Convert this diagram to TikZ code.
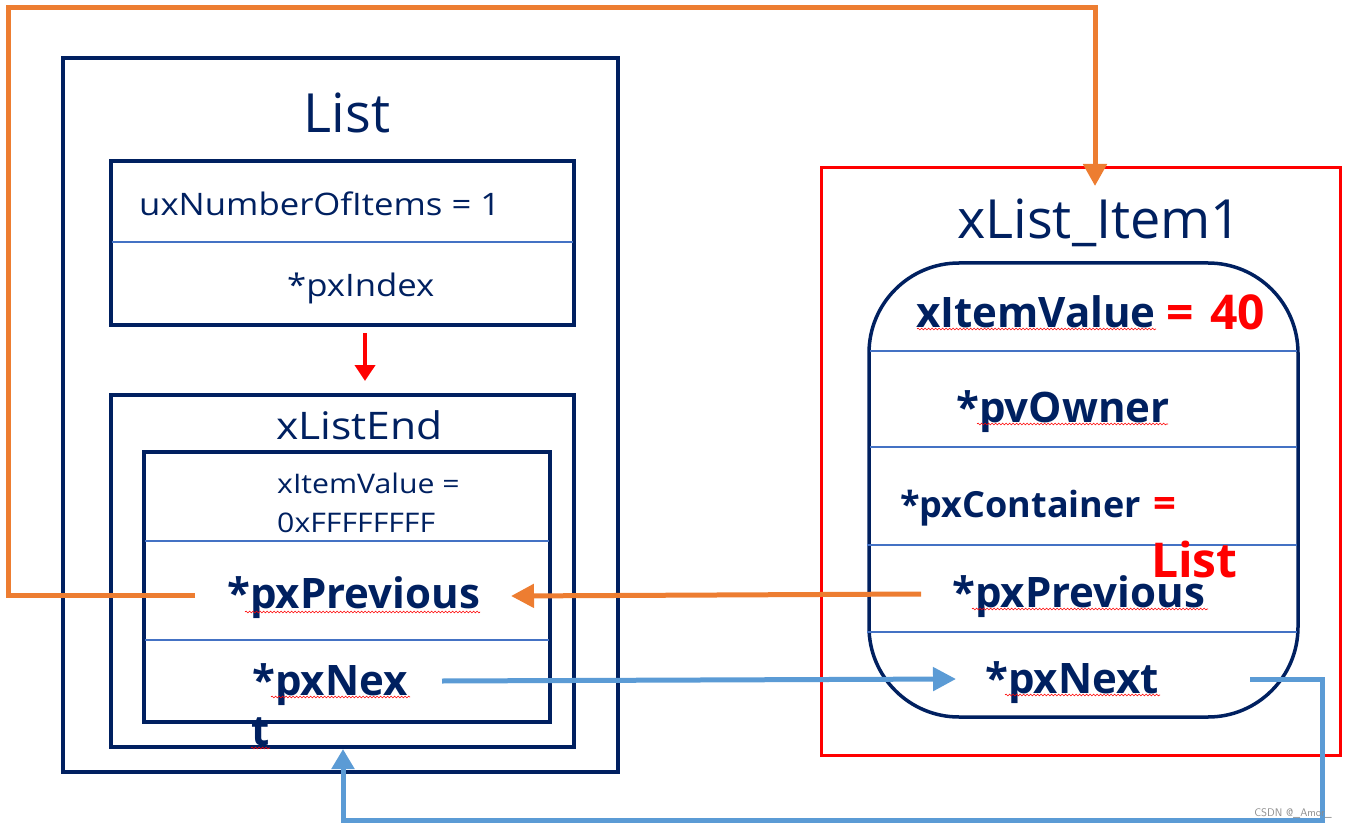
\documentclass[tikz,border=0pt]{standalone}
\usepackage{fontspec}
\setmainfont{Open Sans}
\newfontfamily\widefont{Open Sans}[FakeStretch=1.12]
\usetikzlibrary{arrows.meta,decorations.pathmorphing}
\definecolor{navy}{HTML}{002060}
\definecolor{divblue}{HTML}{4472C4}
\definecolor{orng}{HTML}{ED7D31}
\definecolor{lblue}{HTML}{5B9BD5}
\definecolor{rred}{HTML}{FF0000}
\tikzset{
  navybox/.style={draw=navy,line width=3.5pt},
  divider/.style={draw=divblue,line width=1.6pt},
  lbl/.style={inner sep=0pt,text=navy,anchor=base west},
  redlbl/.style={inner sep=0pt,text=rred,anchor=base west,font=\fontsize{48}{54}\selectfont\bfseries},
  fs31/.style={font=\widefont\fontsize{31}{36}\selectfont},
  fs26/.style={font=\widefont\fontsize{27}{31}\selectfont},
  fsbig/.style={font=\fontsize{54}{60}\selectfont},
  fsbold/.style={font=\fontsize{42}{48}\selectfont\bfseries},
  orangearrow/.style={draw=orng,line width=5pt},
  bluearrow/.style={draw=lblue,line width=5pt},
  wavy/.style={draw=rred,line width=0.6pt,decorate,decoration={snake,amplitude=0.9pt,segment length=3.5pt}},
}
\begin{document}
\begin{tikzpicture}[x=1pt,y=-1pt]
\useasboundingbox (0,0) rectangle (1346,826);
% ---- List outer box
\draw[navybox] (63,58) rectangle (618,772);
\node[inner sep=0pt,text=navy,anchor=base,fsbig] (listtitle) at (347,133) {List};
% box 1
\draw[navybox] (111,161) rectangle (574,325);
\draw[divider] (112,242) -- (573,242);
\node[lbl,fs31] (uxnum) at (139,216) {uxNumberOfItems = 1};
\node[lbl,fs31] (pxindex) at (287,296) {*pxIndex};
% red arrow
\coordinate (ra1) at (365,333);
\coordinate (ra2) at (365,381);
\draw[draw=rred,line width=4pt,-{Triangle[length=16pt,width=20pt]}] (ra1) -- (ra2);
% xListEnd
\draw[navybox] (111,395) rectangle (574,747);
\node[lbl,font=\widefont\fontsize{38}{44}\selectfont] (xlistend) at (276,439) {xListEnd};
\draw[navybox] (144,452) rectangle (550,722);
\draw[divider] (145,541) -- (549,541);
\draw[divider] (145,640) -- (549,640);
\node[lbl,fs26] (iv1) at (277,493) {xItemValue =};
\node[lbl,fs26] (iv2) at (277,532) {0xFFFFFFFF};
\node[lbl,fsbold] (lprev) at (227,608) {*pxPrevious};
\node[lbl,fsbold] (lnext) at (252,695) {*pxNex};
\node[lbl,fsbold] (lnextt) at (251,745) {t};
% ---- right red box
\draw[draw=rred,line width=3pt] (821,168) rectangle (1340,755);
\node[lbl,fsbig] (itemtitle) at (957,239) {xList\_Item1};
\draw[navybox] (869,263) [rounded corners=90pt] rectangle (1298,717);
\draw[divider] (870,351) -- (1297,351);
\draw[divider] (870,447) -- (1297,447);
\draw[divider] (867,545) -- (1297,545);
\draw[divider] (867,632) -- (1297,632);
\node[lbl,fsbold] (rval) at (916,327) {xItemValue};
\node[redlbl] (rval40) at (1166,329) {=\hspace{4pt} 40};
\node[lbl,font=\fontsize{36}{42}\selectfont\bfseries] (rcont) at (900,517) {*pxContainer};
\node[lbl,fsbold] (rowner) at (956,422) {*pvOwner};
\node[redlbl,font=\fontsize{40}{46}\selectfont\bfseries] (rcontEq) at (1153,517) {=};
\node[redlbl] (rcontList) at (1151,577) {List};
\node[lbl,fsbold] (rprev) at (952,607) {*pxPrevious};
\node[lbl,fsbold] (rnext) at (985,693) {*pxNext};
% ---- spell-check wavy underlines
\draw[wavy] (245,612) -- (480,612);
\draw[wavy] (271,697) -- (410,697);
\draw[wavy] (251,748) -- (270,748);
\draw[wavy] (917,329) -- (1156,329);
\draw[wavy] (977,424) -- (1168,424);
\draw[wavy] (972,609) -- (1208,609);
\draw[wavy] (1005,695) -- (1160,695);
% ---- orange connectors
\coordinate (o1) at (195,595);
\coordinate (oc1) at (8,595);
\coordinate (oc2) at (8,8);
\coordinate (oc3) at (1095,8);
\coordinate (o2) at (1095,186);
\draw[orangearrow,-{Triangle[length=22pt,width=23pt]}] (o1) -- (oc1) -- (oc2) -- (oc3) -- (o2);
\coordinate (o3) at (921,594);
\coordinate (o4) at (511,596);
\draw[orangearrow,-{Triangle[length=23pt,width=23pt]}] (o3) -- (o4);
% ---- blue connectors
\coordinate (b1) at (442,681);
\coordinate (b2) at (956,679);
\draw[bluearrow,-{Triangle[length=23pt,width=23pt]}] (b1) -- (b2);
\coordinate (b3) at (1250,679);
\coordinate (bc1) at (1322,679);
\coordinate (bc2) at (1322,820);
\coordinate (bc3) at (343,820);
\coordinate (b4) at (343,749);
\draw[bluearrow,-{Triangle[length=20pt,width=22pt]}] (b3) -- (bc1) -- (bc2) -- (bc3) -- (b4);
% watermark
\node[inner sep=0pt,anchor=base east,text=black!45,font=\fontsize{11}{13}\selectfont\sffamily] (wm) at (1332,816) {CSDN @\_Amor\_};
\end{tikzpicture}
\end{document}
